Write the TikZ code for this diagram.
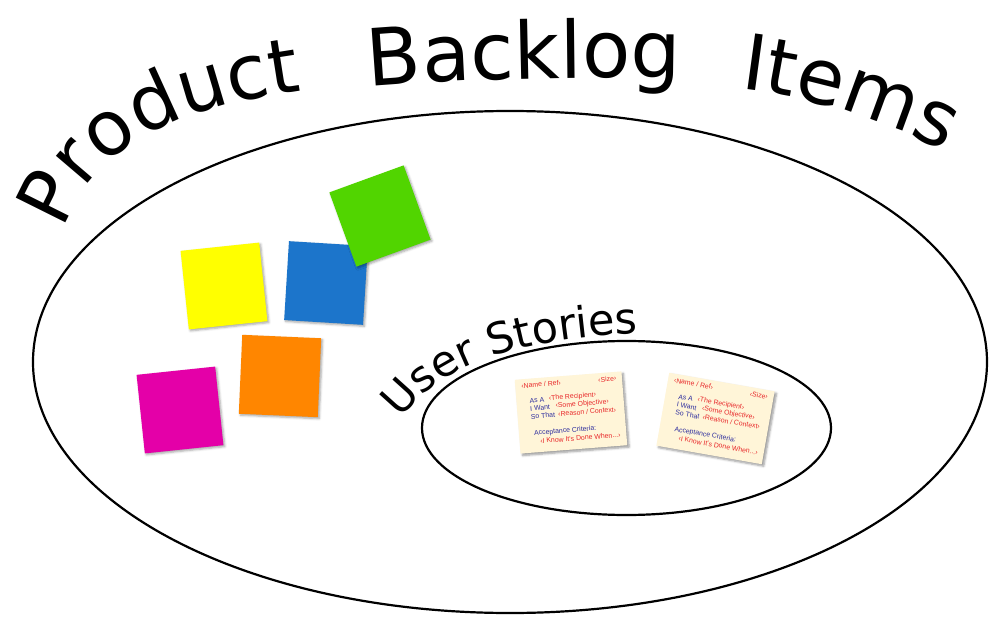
\documentclass[tikz,border=0pt]{standalone}
\usepackage{fontspec}
\setmainfont{DejaVu Sans}
\newfontfamily\cardfont{Liberation Sans}
\usetikzlibrary{decorations.text,shadows.blur,shapes.geometric}
\definecolor{stYellow}{HTML}{FFFF00}
\definecolor{stBlue}{HTML}{1C75CB}
\definecolor{stGreen}{HTML}{51D500}
\definecolor{stOrange}{HTML}{FF8600}
\definecolor{stMagenta}{HTML}{E400A8}
\definecolor{cardBg}{HTML}{FFF5D8}
\definecolor{cardRed}{HTML}{E8282A}
\definecolor{cardBlue}{HTML}{2E2E9E}
\newcommand\titlesizeA{\fontsize{76}{80}\selectfont}
\newcommand\titlesizeB{\fontsize{79}{83}\selectfont}
\newcommand\titlesizeC{\fontsize{77}{81}\selectfont}
\newcommand\subtitlesize{\fontsize{43}{47}\selectfont}
\tikzset{
  bigring/.style={draw=black, line width=2.2pt, ellipse, inner sep=0pt},
  sticky/.style={minimum size=79pt, inner sep=0pt, outer sep=0pt,
    blur shadow={shadow xshift=1.5pt, shadow yshift=-1.5pt, shadow blur steps=4, shadow opacity=35}},
  cardbox/.style={fill=cardBg, minimum width=107pt, minimum height=74pt, inner sep=0pt,
    blur shadow={shadow xshift=2pt, shadow yshift=-2pt, shadow blur steps=5, shadow opacity=40}},
  cardtxt/.style={font=\cardfont\fontsize{6.9}{7}\selectfont, inner sep=0pt, anchor=west},
  cardtxtr/.style={cardtxt, anchor=east},
  pics/storycard/.style={code={
    \node[cardbox] (-box) at (0,0) {};
    \node[cardtxt, text=cardRed] (-name) at (-47.5,-30.5) {‹Name / Ref›};
    \node[cardtxtr, text=cardRed] (-size) at (48,-30.5) {‹Size›};
    \node[cardtxt, text=cardBlue] (-asa) at (-40.5,-15) {As A};
    \node[cardtxt, text=cardRed] (-rec) at (-21,-15.5) {‹The Recipient›};
    \node[cardtxt, text=cardBlue] (-want) at (-40.5,-7) {I Want};
    \node[cardtxt, text=cardRed] (-obj) at (-15,-7.5) {‹Some Objective›};
    \node[cardtxt, text=cardBlue] (-so) at (-40.5,1) {So That};
    \node[cardtxt, text=cardRed] (-ctx) at (-13,0.5) {‹Reason / Context›};
    \node[cardtxt, text=cardBlue] (-acc) at (-38.5,18) {Acceptance Criteria:};
    \node[cardtxt, text=cardRed] (-done) at (-33,26) {‹I Know It's Done When...›};
  }}
}
\begin{document}
\begin{tikzpicture}[x=1pt,y=-1pt]
\useasboundingbox (0,0) rectangle (989,618);
% ellipses
\node[bigring, minimum width=954pt, minimum height=502pt] (pbi) at (510,362) {};
\node[bigring, minimum width=409pt, minimum height=174pt] (us) at (626.5,428) {};
% sticky notes
\node[sticky, fill=stYellow, rotate=6] (yellow) at (224,286) {};
\node[sticky, fill=stBlue, rotate=-3.5] (blue) at (326,283) {};
\node[sticky, fill=stGreen, rotate=20] (green) at (380,216) {};
\node[sticky, fill=stOrange, rotate=-2.5] (orange) at (280,376) {};
\node[sticky, fill=stMagenta, rotate=6] (magenta) at (180,410) {};
% story cards
\pic[rotate=4.5, transform shape] (card1) at (571,412.5) {storycard};
\pic[rotate=-10, transform shape] (card2) at (715.5,418.5) {storycard};
% title along curve
\path[decorate, decoration={text along path, text={|\titlesizeA|Product}}]
  (64,230) .. controls (95,140) and (185,100) .. (360,84);
\path[decorate, decoration={text along path, text={|\titlesizeB|Backlog}}]
  (369,87) .. controls (460,79) and (600,75) .. (730,80);
\path[decorate, decoration={text along path, text={|\titlesizeC|Items}}]
  (740,89) .. controls (815,98) and (890,120) .. (975,168);
\path[decorate, decoration={text along path, text={|\subtitlesize|User Stories}}]
  (401,419) .. controls (440,364) and (525,333) .. (675,333);
\end{tikzpicture}
\end{document}
